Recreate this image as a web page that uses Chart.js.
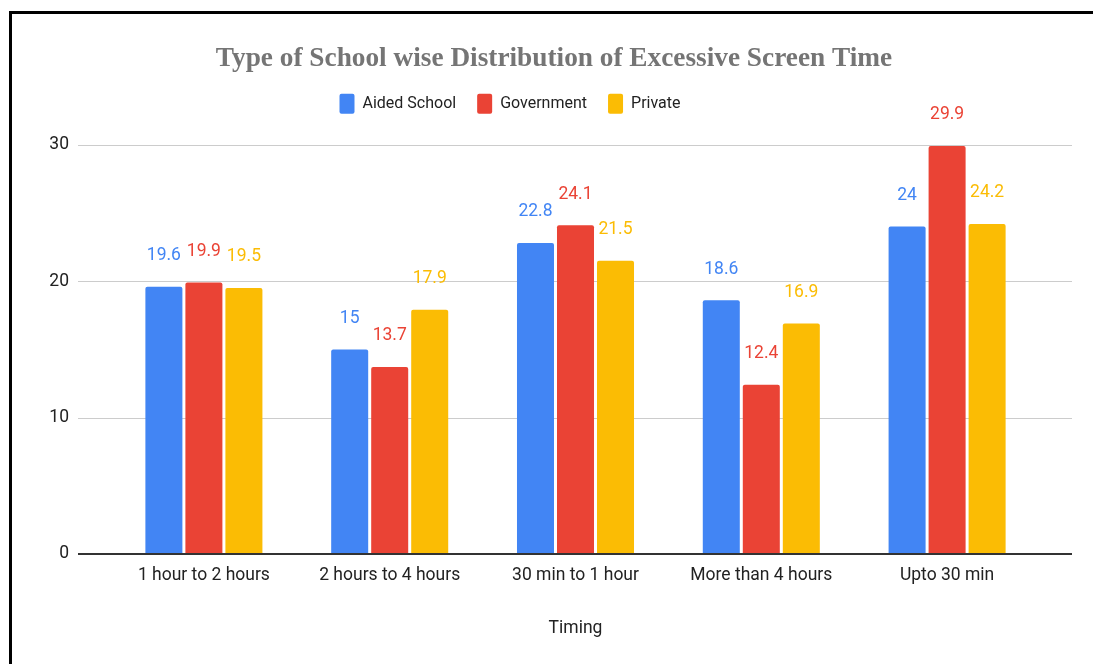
<!DOCTYPE html>
<html>
<head>
<meta charset="utf-8">
<title>Type of School wise Distribution of Excessive Screen Time</title>
<script src="https://cdn.jsdelivr.net/npm/chart.js@4.4.1/dist/chart.umd.min.js"></script>
<style>
  html, body { margin: 0; padding: 0; background: #fff; overflow: hidden; }
  #wrap { position: relative; width: 1093px; height: 664px; }
  #frame { position: absolute; left: 9px; top: 11px; right: -10px; bottom: -10px;
           border-left: 3px solid #000; border-top: 3px solid #000; pointer-events: none; }
  canvas { position: absolute; left: 0; top: 0; }
</style>
</head>
<body>
<div id="wrap">
  <canvas id="chart" width="1093" height="664"></canvas>
  <div id="frame"></div>
</div>
<script>
// Screen time bands and share (%) of students per school type
const categories = ['1 hour to 2 hours', '2 hours to 4 hours', '30 min to 1 hour', 'More than 4 hours', 'Upto 30 min'];
const aidedSchool = [19.6, 15, 22.8, 18.6, 24];
const government = [19.9, 13.7, 24.1, 12.4, 29.9];
const privateSchool = [19.5, 17.9, 21.5, 16.9, 24.2];
const yTicks = [0, 10, 20, 30];

const BLUE = '#4285F4', RED = '#EA4335', YELLOW = '#FBBC04';
const FONT = 'Roboto, "Noto Sans", Arial, sans-serif';

// Horizontal gridlines and baseline spanning slightly wider than the bar area
const gridPlugin = {
  id: 'wideGrid',
  beforeDatasetsDraw(chart) {
    const { ctx } = chart;
    const y = chart.scales.y;
    const x0 = chart.chartArea.left - 33, x1 = chart.chartArea.right + 32;
    ctx.save();
    yTicks.forEach(v => {
      if (v === 0) return;
      const py = Math.round(y.getPixelForValue(v));
      ctx.strokeStyle = '#cccccc';
      ctx.lineWidth = 1;
      ctx.beginPath();
      ctx.moveTo(x0, py + 0.5);
      ctx.lineTo(x1, py + 0.5);
      ctx.stroke();
    });
    ctx.restore();
  },
  afterDatasetsDraw(chart) {
    const { ctx } = chart;
    const y = chart.scales.y;
    const x0 = chart.chartArea.left - 33, x1 = chart.chartArea.right + 32;
    const py = Math.round(y.getPixelForValue(0));
    ctx.save();
    ctx.strokeStyle = '#333333';
    ctx.lineWidth = 2;
    ctx.beginPath();
    ctx.moveTo(x0, py);
    ctx.lineTo(x1, py);
    ctx.stroke();
    ctx.restore();
  }
};

// Value labels above each bar
const valueLabels = {
  id: 'valueLabels',
  afterDatasetsDraw(chart) {
    const { ctx } = chart;
    ctx.save();
    ctx.font = '17.5px ' + FONT;
    ctx.textAlign = 'center';
    ctx.textBaseline = 'middle';
    chart.data.datasets.forEach((ds, i) => {
      const meta = chart.getDatasetMeta(i);
      meta.data.forEach((bar, j) => {
        ctx.fillStyle = ds.backgroundColor;
        ctx.fillText(String(ds.data[j]), bar.x, bar.y - 31);
      });
    });
    ctx.restore();
  }
};

// Nudge title and legend into place
const headerShift = {
  id: 'headerShift',
  afterLayout(chart) {
    const t = chart.titleBlock, l = chart.legend;
    if (t) { t.left += 34; t.right += 34; }
    if (l) { l.left -= 10; l.right -= 10; l.top -= 21; l.bottom -= 21; }
  }
};

new Chart(document.getElementById('chart'), {
  type: 'bar',
  data: {
    labels: categories,
    datasets: [
      { label: 'Aided School', data: aidedSchool, backgroundColor: BLUE },
      { label: 'Government', data: government, backgroundColor: RED },
      { label: 'Private', data: privateSchool, backgroundColor: YELLOW }
    ]
  },
  options: {
    responsive: false,
    animation: false,
    devicePixelRatio: 1,
    layout: { padding: { left: 0, right: 53, top: 0, bottom: 25 } },
    datasets: {
      bar: {
        categoryPercentage: 0.646,
        barPercentage: 0.925,
        borderRadius: { topLeft: 2, topRight: 2, bottomLeft: 0, bottomRight: 0 },
        borderSkipped: 'bottom'
      }
    },
    plugins: {
      title: {
        display: true,
        text: 'Type of School wise Distribution of Excessive Screen Time',
        color: '#757575',
        font: { family: '"Liberation Serif", "DejaVu Serif", serif', size: 27.3, weight: 'bold' },
        padding: { top: 43, bottom: 18 }
      },
      legend: {
        display: true,
        position: 'top',
        labels: {
          color: '#222222',
          font: { family: FONT, size: 16 },
          boxWidth: 15,
          boxHeight: 20,
          useBorderRadius: true,
          borderRadius: 2,
          padding: 21
        }
      },
      tooltip: { enabled: false }
    },
    scales: {
      x: {
        grid: { display: false, drawTicks: false },
        border: { display: false },
        ticks: { color: '#222222', font: { family: FONT, size: 17.5 }, padding: 11, maxRotation: 0 },
        title: {
          display: true,
          text: 'Timing',
          color: '#222222',
          font: { family: FONT, size: 17.5 },
          padding: { top: 21, bottom: 0 }
        }
      },
      y: {
        min: 0,
        max: 30,
        afterFit(scale) { scale.width = 111; },
        afterBuildTicks(scale) { scale.ticks = yTicks.map(v => ({ value: v })); },
        grid: { display: false, drawTicks: false },
        border: { display: false },
        ticks: { color: '#222222', font: { family: FONT, size: 17.5 }, padding: 42 }
      }
    }
  },
  plugins: [gridPlugin, valueLabels, headerShift]
});
</script>
</body>
</html>
